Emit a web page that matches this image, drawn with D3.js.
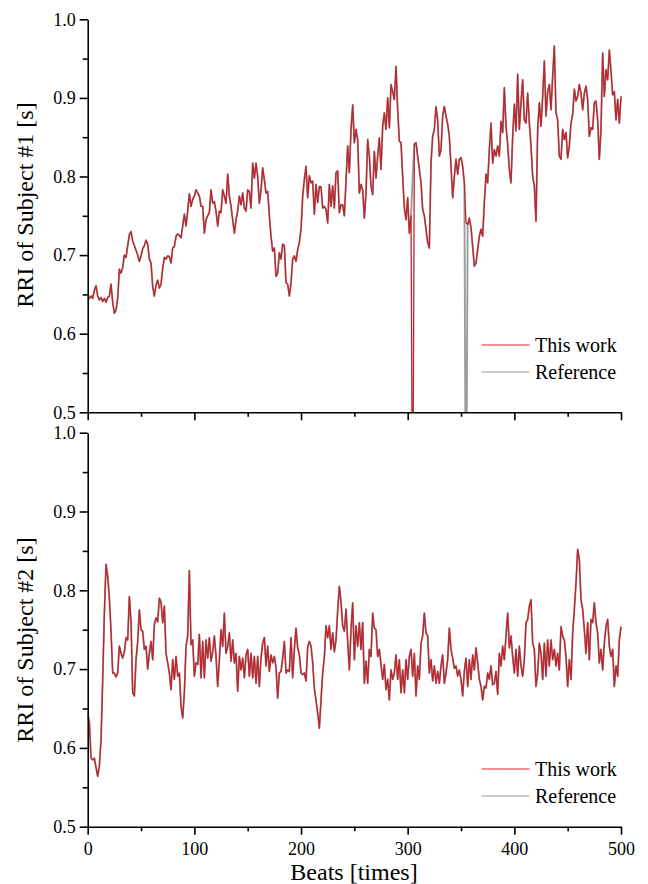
<!DOCTYPE html>
<html>
<head>
<meta charset="utf-8">
<script src="https://cdn.jsdelivr.net/npm/d3@7"></script>
<style>
  body { margin: 0; background: #fff; }
  svg { display: block; }
  text { font-family: "Liberation Serif", "Times New Roman", serif; fill: #000; }
</style>
</head>
<body>
<svg id="chart" width="648" height="884"></svg>
<script>
// ---------------- DATA ----------------
const xTicks = [0, 100, 200, 300, 400, 500];
const xMinorTicks = [50, 150, 250, 350, 450];
const yTicks = [0.5, 0.6, 0.7, 0.8, 0.9, 1.0];
const yMinorTicks = [0.55, 0.65, 0.75, 0.85, 0.95];
const seriesNames = ["This work", "Reference"];
const beatRange = [0, 500];

// Subject #1, "This work" RRI [s], sampled evenly over beats 0..500
const s1ThisWork = [
  0.648,0.645,0.648,0.645,0.655,0.661,0.648,0.643,0.646,0.641,
  0.645,0.640,0.646,0.648,0.663,0.640,0.626,0.630,0.645,0.682,
  0.677,0.684,0.700,0.697,0.712,0.726,0.730,0.718,0.712,0.706,
  0.700,0.692,0.699,0.708,0.712,0.719,0.714,0.695,0.690,0.660,
  0.648,0.662,0.668,0.658,0.663,0.683,0.697,0.695,0.699,0.698,
  0.690,0.709,0.711,0.724,0.727,0.725,0.722,0.737,0.752,0.737,
  0.756,0.778,0.762,0.771,0.775,0.783,0.779,0.775,0.762,0.762,
  0.728,0.745,0.750,0.754,0.783,0.766,0.768,0.756,0.737,0.756,
  0.754,0.783,0.775,0.766,0.803,0.775,0.762,0.745,0.728,0.745,
  0.756,0.775,0.764,0.779,0.760,0.756,0.783,0.781,0.760,0.817,
  0.798,0.817,0.800,0.766,0.783,0.811,0.796,0.779,0.781,0.750,
  0.724,0.705,0.709,0.673,0.677,0.703,0.695,0.714,0.712,0.665,
  0.663,0.648,0.665,0.695,0.699,0.692,0.707,0.716,0.733,0.775,
  0.796,0.813,0.773,0.801,0.792,0.794,0.752,0.790,0.767,0.787,
  0.787,0.760,0.762,0.758,0.741,0.790,0.762,0.788,0.760,0.805,
  0.807,0.754,0.764,0.764,0.750,0.794,0.839,0.805,0.860,0.891,
  0.843,0.860,
  0.847,0.779,0.790,0.783,0.747,0.779,0.847,0.826,0.788,0.777,
  0.832,0.798,0.826,0.849,0.809,0.864,0.881,0.860,0.900,0.862,
  0.917,0.908,0.898,0.940,0.885,0.845,0.843,0.800,0.760,0.745,
  0.773,0.728,0.750,0.300,0.841,0.843,0.826,0.809,0.792,0.758,
  0.750,0.733,0.716,0.709,0.817,0.851,0.860,0.889,0.872,0.826,
  0.834,0.877,0.889,0.877,0.867,0.851,0.813,0.773,0.800,0.822,
  0.803,0.822,0.824,0.813,0.792,0.741,0.739,0.747,0.735,0.711,
  0.686,0.690,0.707,0.724,0.733,0.724,0.767,0.803,0.792,0.834,
  0.868,0.817,0.834,0.826,0.839,0.826,0.870,0.856,0.913,0.864,
  0.841,0.809,0.792,0.851,0.892,0.858,0.930,0.860,0.894,0.923,
  0.872,0.868,0.906,0.868,0.839,0.800,0.788,0.743,0.860,0.894,
  0.864,0.902,0.947,0.877,0.908,0.917,0.885,0.928,0.966,0.881,
  0.872,0.826,0.822,0.860,0.847,0.856,0.824,0.839,0.868,0.879,
  0.911,0.896,0.902,0.917,0.906,0.885,0.906,0.915,0.898,0.851,
  0.862,0.860,0.894,0.896,0.872,0.822,0.860,0.957,0.902,0.936,
  0.923,0.961,0.934,0.904,0.908,0.872,0.898,0.868,0.902
];
// Subject #1 "Reference" differs from "This work" only at these samples [index, value]
const s1RefEdits = [[195, 0.800], [227, 0.300]];

// Subject #2, "This work" RRI [s], sampled evenly over beats 0..500
const s2ThisWork = [
  0.644,0.632,0.587,0.585,0.587,0.575,0.564,0.577,0.610,0.687,
  0.771,0.833,0.818,0.790,0.748,0.695,0.695,0.690,0.695,0.729,
  0.720,0.714,0.722,0.740,0.737,0.792,0.760,0.670,0.666,0.712,
  0.735,0.775,0.750,0.748,0.725,0.729,0.700,0.720,0.735,0.712,
  0.757,0.765,0.760,0.790,0.785,0.759,0.780,0.720,0.708,0.695,
  0.674,0.712,0.687,0.716,0.691,0.695,0.653,0.638,0.670,0.729,
  0.742,0.825,0.731,0.737,0.691,0.708,0.706,0.744,0.689,0.735,
  0.689,0.737,0.714,0.740,0.710,0.722,0.742,0.716,0.678,0.712,
  0.750,0.729,0.771,0.720,0.729,0.746,0.710,0.737,0.708,0.720,
  0.672,0.716,0.699,0.714,0.689,0.718,0.725,0.691,0.720,0.689,
  0.716,0.682,0.716,0.678,0.714,0.733,0.740,0.704,0.729,0.697,
  0.718,0.708,0.716,0.702,0.663,0.695,0.697,0.714,0.735,0.695,
  0.699,0.697,0.740,0.689,0.725,0.752,0.727,0.718,0.695,0.693,
  0.695,0.685,0.728,0.735,0.729,0.708,0.676,0.660,0.644,0.625,
  0.661,0.695,0.715,0.755,0.740,0.755,0.725,0.746,0.722,0.737,
  0.774,0.805,0.785,0.755,0.748,0.776,0.735,0.699,0.750,0.784,
  0.712,0.755,
  0.729,0.759,0.725,0.759,0.682,0.710,0.682,0.725,0.716,0.771,
  0.752,0.750,0.716,0.725,0.706,0.687,0.706,0.674,0.687,0.661,
  0.699,0.687,0.695,0.718,0.687,0.712,0.670,0.699,0.670,0.712,
  0.687,0.716,0.725,0.691,0.720,0.666,0.704,0.687,0.733,0.742,
  0.771,0.746,0.742,0.695,0.712,0.685,0.704,0.682,0.697,0.682,
  0.704,0.718,0.682,0.695,0.712,0.752,0.725,0.714,0.701,0.704,
  0.691,0.699,0.687,0.666,0.697,0.714,0.678,0.712,0.687,0.718,
  0.699,0.727,0.708,0.687,0.678,0.661,0.678,0.676,0.695,0.687,
  0.704,0.680,0.682,0.697,0.668,0.720,0.704,0.729,0.712,0.742,
  0.771,0.727,0.742,0.716,0.695,0.725,0.691,0.729,0.704,0.691,
  0.712,0.759,0.763,0.780,0.788,0.733,0.725,0.678,0.695,0.733,
  0.720,0.687,0.733,0.691,0.737,0.704,0.737,0.712,0.725,0.704,
  0.720,0.699,0.754,0.742,0.737,0.716,0.678,0.712,0.687,0.746,
  0.776,0.809,0.852,0.839,0.788,0.776,0.750,0.720,0.759,0.712,
  0.763,0.759,0.784,0.759,0.746,0.708,0.725,0.699,0.733,0.754,
  0.763,0.729,0.716,0.725,0.678,0.704,0.691,0.737,0.754
];
// Subject #2 "Reference" coincides with "This work" (no visible differences)
const s2RefEdits = [];

// ---------------- BUILD ----------------
function withEdits(values, edits) {
  const out = values.slice();
  edits.forEach(([i, v]) => { out[i] = v; });
  return out;
}
function toPoints(values) {
  const n = values.length;
  return values.map((v, i) => ({ beat: beatRange[0] + i * (beatRange[1] - beatRange[0]) / (n - 1), v }));
}

const COLORS = { thisWork: "#c0232a", legendRed: "#d8282c", reference: "#9c9c9c" };
const svg = d3.select("#chart");
const x = d3.scaleLinear().domain(beatRange).range([87.7, 621]);

const panels = [
  { id: "p1", thisWork: s1ThisWork, reference: withEdits(s1ThisWork, s1RefEdits),
    top: 19.3, bottom: 412.3, title: "RRI of Subject #1 [s]", titleY: 205, xLabels: false, legendY: 345 },
  { id: "p2", thisWork: s2ThisWork, reference: withEdits(s2ThisWork, s2RefEdits),
    top: 432.7, bottom: 826.7, title: "RRI of Subject #2 [s]", titleY: 640, xLabels: true, legendY: 769 }
];

const defs = svg.append("defs");

panels.forEach(p => {
  const y = d3.scaleLinear().domain([0.5, 1.0]).range([p.bottom, p.top]);
  defs.append("clipPath").attr("id", "clip-" + p.id)
    .append("rect").attr("x", x.range()[0]).attr("y", p.top - 2)
    .attr("width", x.range()[1] - x.range()[0] + 2).attr("height", p.bottom - p.top + 2);

  const line = d3.line().x(d => x(d.beat)).y(d => y(d.v));
  const g = svg.append("g").attr("clip-path", `url(#clip-${p.id})`);
  g.append("path").datum(toPoints(p.reference))
    .attr("d", line).attr("fill", "none")
    .attr("stroke", COLORS.reference).attr("stroke-width", 1.9).attr("stroke-linejoin", "round");
  g.append("path").datum(toPoints(p.thisWork))
    .attr("d", line).attr("fill", "none")
    .attr("stroke", COLORS.thisWork).attr("stroke-width", 1.3).attr("stroke-linejoin", "round");

  // Y axis
  const yAxis = svg.append("g").attr("transform", `translate(${x.range()[0]},0)`)
    .call(d3.axisLeft(y).tickValues(yTicks).tickSize(8).tickSizeOuter(0).tickPadding(4).tickFormat(d3.format(".1f")));
  yAxis.selectAll(".tick text").attr("font-size", 18).attr("font-family", "Liberation Serif, serif");
  svg.append("g").attr("transform", `translate(${x.range()[0]},0)`)
    .call(d3.axisLeft(y).tickValues(yMinorTicks).tickSize(5).tickSizeOuter(0).tickFormat(""))
    .select(".domain").remove();

  // X axis
  const xAxis = svg.append("g").attr("transform", `translate(0,${p.bottom})`)
    .call(d3.axisBottom(x).tickValues(xTicks).tickSize(8).tickSizeOuter(0).tickPadding(7.5)
      .tickFormat(p.xLabels ? d3.format("d") : ""));
  xAxis.selectAll(".tick text").attr("font-size", 18).attr("font-family", "Liberation Serif, serif");
  svg.append("g").attr("transform", `translate(0,${p.bottom})`)
    .call(d3.axisBottom(x).tickValues(xMinorTicks).tickSize(4.5).tickSizeOuter(0).tickFormat(""))
    .select(".domain").remove();

  // Y title
  svg.append("text")
    .attr("transform", `translate(33,${p.titleY}) rotate(-90)`)
    .attr("text-anchor", "middle").attr("font-size", 24)
    .text(p.title);

  // Legend
  const lg = svg.append("g");
  seriesNames.forEach((name, i) => {
    const ly = p.legendY + i * 27;
    lg.append("line").attr("x1", 481.7).attr("x2", 529.5).attr("y1", ly).attr("y2", ly)
      .attr("stroke", i === 0 ? COLORS.legendRed : COLORS.reference).attr("stroke-width", 1);
    lg.append("text").attr("x", 535).attr("y", ly).attr("dy", "0.33em")
      .attr("font-size", 20).text(name);
  });
});

svg.selectAll(".domain, .tick line").attr("stroke", "#000").attr("stroke-width", 1.6);
svg.selectAll(".tick text").attr("fill", "#000");

// X title
svg.append("text").attr("x", 354).attr("y", 880).attr("text-anchor", "middle")
  .attr("font-size", 24).text("Beats [times]");
</script>
</body>
</html>
